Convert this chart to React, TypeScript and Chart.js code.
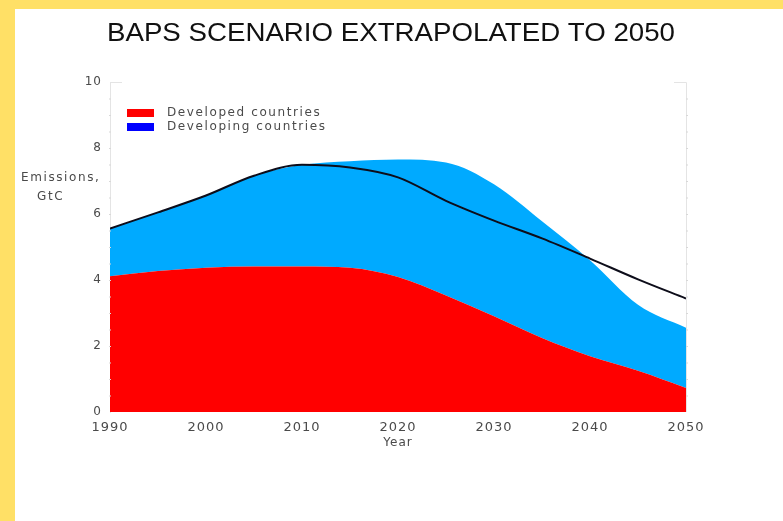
import React, { useEffect, useRef } from "react";
import { Chart, registerables } from "chart.js";

Chart.register(...registerables);

// Emissions in GtC, every five years
const years = [1990, 1995, 2000, 2005, 2010, 2015, 2020, 2025, 2030, 2035, 2040, 2045, 2050];
const developed = [4.11, 4.27, 4.37, 4.41, 4.41, 4.37, 4.09, 3.53, 2.9, 2.24, 1.69, 1.25, 0.73];
const developing = [1.45, 1.78, 2.19, 2.75, 3.08, 3.23, 3.56, 4.03, 4.0, 3.54, 2.91, 2.0, 1.82];
const bapsTotal = [5.56, 6.05, 6.56, 7.16, 7.49, 7.41, 7.11, 6.4, 5.8, 5.26, 4.65, 4.02, 3.44];

const yTicks = [0, 2, 4, 6, 8, 10];
const xTicks = [1990, 2000, 2010, 2020, 2030, 2040, 2050];

const TITLE = "BAPS SCENARIO EXTRAPOLATED TO 2050";
const legendItems = [
  { label: "Developed countries", color: "#ff0000" },
  { label: "Developing countries", color: "#0000ff" },
];

const RED = "#ff0000";
const SKY = "#00aaff";
const TEXT = "#4a4a4a";
const FONT = "'DejaVu Sans', sans-serif";

const decorations = {
  id: "decorations",
  beforeDraw(chart: any) {
    // wide-set lettering for axis labels
    chart.ctx.letterSpacing = "1px";
  },
  afterDraw(chart: any) {
    const { ctx, chartArea: a } = chart;
    ctx.letterSpacing = "0px";
    ctx.save();
    // title, stretched to its full width
    ctx.fillStyle = "#111";
    ctx.font = "25px 'Liberation Sans', Arial, sans-serif";
    ctx.textAlign = "center";
    ctx.textBaseline = "middle";
    const w = ctx.measureText(TITLE).width;
    ctx.save();
    ctx.translate(391, 34);
    ctx.scale(568 / w, 1);
    ctx.fillText(TITLE, 0, 0);
    ctx.restore();

    // faint frame with minor ticks
    ctx.strokeStyle = "#e4e4e4";
    ctx.lineWidth = 1;
    ctx.beginPath();
    ctx.moveTo(a.left + 0.5, a.top + 0.5);
    ctx.lineTo(a.left + 12, a.top + 0.5);
    ctx.moveTo(a.right - 12, a.top + 0.5);
    ctx.lineTo(a.right + 0.5, a.top + 0.5);
    ctx.lineTo(a.right + 0.5, a.bottom);
    ctx.stroke();
    const ys = chart.scales.y;
    ctx.fillStyle = "#d8d8d8";
    for (let v = 0.5; v < 10; v += 0.5) {
      const py = ys.getPixelForValue(v);
      ctx.fillRect(a.left - 1, py, 2, 1);
      ctx.fillRect(a.right, py, 2, 1);
    }

    // y axis caption
    ctx.letterSpacing = "1.6px";
    ctx.fillStyle = TEXT;
    ctx.font = `12px ${FONT}`;
    ctx.textAlign = "left";
    ctx.fillText("Emissions,", 21, 178);
    ctx.fillText("GtC", 37, 197);

    // legend
    legendItems.forEach((it, i) => {
      const y = a.top + 27 + i * 14;
      ctx.fillStyle = it.color;
      ctx.fillRect(a.left + 17, y, 27, 8);
      ctx.fillStyle = TEXT;
      ctx.font = `12px ${FONT}`;
      ctx.textBaseline = "middle";
      ctx.fillText(it.label, a.left + 57, y + 4);
    });
    ctx.restore();
    ctx.letterSpacing = "0px";
  },
};

export default function App() {
  const ref = useRef<HTMLCanvasElement>(null);

  useEffect(() => {
    if (!ref.current) return;
    const pts = (vals: number[]) => years.map((x, i) => ({ x, y: vals[i] }));
    const chart = new Chart(ref.current, {
      type: "line",
      data: {
        datasets: [
          {
            label: "BAPS",
            data: pts(bapsTotal),
            borderColor: "#0d0d1a",
            borderWidth: 2,
            pointRadius: 0,
            fill: false,
            stack: "total",
            order: 0,
            cubicInterpolationMode: "monotone",
          },
          {
            label: "Developed countries",
            data: pts(developed),
            borderColor: RED,
            borderWidth: 0,
            backgroundColor: RED,
            pointRadius: 0,
            fill: "origin",
            stack: "regions",
            order: 1,
            cubicInterpolationMode: "monotone",
          },
          {
            label: "Developing countries",
            data: pts(developing),
            borderColor: SKY,
            borderWidth: 0,
            backgroundColor: SKY,
            pointRadius: 0,
            fill: "-1",
            stack: "regions",
            order: 2,
            cubicInterpolationMode: "monotone",
          },
        ],
      },
      options: {
        animation: false,
        responsive: false,
        maintainAspectRatio: false,
        layout: { padding: { left: 10, right: 97, top: 82, bottom: 71 } },
        plugins: { legend: { display: false }, tooltip: { enabled: false }, title: { display: false } },
        scales: {
          x: {
            type: "linear",
            min: 1990,
            max: 2050,
            afterBuildTicks: (s: any) => {
              s.ticks = xTicks.map((v) => ({ value: v }));
            },
            afterFit: (s: any) => {
              s.height = 38;
            },
            grid: { display: false, drawTicks: false },
            border: { display: false },
            ticks: {
              padding: 8,
              color: TEXT,
              font: { family: FONT, size: 13 },
              maxRotation: 0,
              callback: (v: any) => String(v),
            },
            title: {
              display: true,
              text: "Year",
              color: TEXT,
              font: { family: FONT, size: 12 },
              padding: { top: 1, bottom: 0 },
            },
          },
          y: {
            stacked: true,
            min: 0,
            max: 10,
            afterBuildTicks: (s: any) => {
              s.ticks = yTicks.map((v) => ({ value: v }));
            },
            afterFit: (s: any) => {
              s.width = 100;
            },
            grid: { display: false, drawTicks: false },
            border: { display: true, color: "#e4e4e4" },
            ticks: {
              padding: 8,
              color: TEXT,
              font: { family: FONT, size: 12 },
            },
          },
        },
      },
      plugins: [decorations],
    });
    return () => chart.destroy();
  }, []);

  return (
    <div style={{ position: "fixed", left: 0, top: 0, width: 783, height: 521, background: "#ffe066" }}>
      <div style={{ position: "absolute", left: 15, top: 9, right: 0, bottom: 0, background: "#ffffff" }} />
      <canvas ref={ref} width={783} height={521} style={{ position: "absolute", left: 0, top: 0 }} />
    </div>
  );
}
